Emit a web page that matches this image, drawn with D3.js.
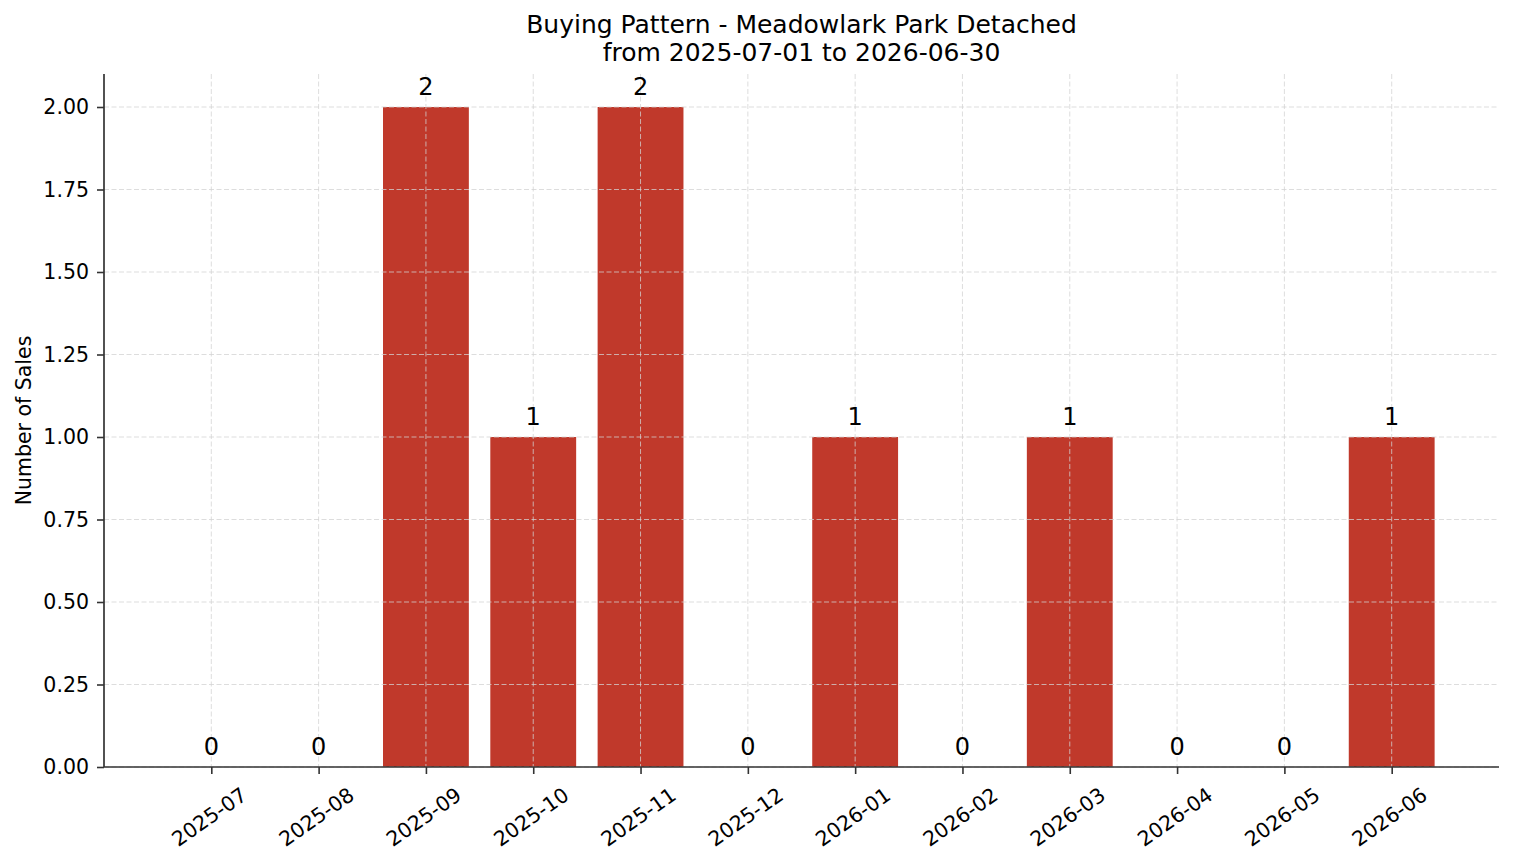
<!DOCTYPE html>
<html>
<head>
<meta charset="utf-8">
<script src="https://cdn.jsdelivr.net/npm/d3@7"></script>
<style>
  html, body { margin: 0; padding: 0; background: #fff; }
  svg { display: block; font-family: "DejaVu Sans", sans-serif; }
</style>
</head>
<body>
<script>
// monthly sales counts
const months = ["2025-07", "2025-08", "2025-09", "2025-10", "2025-11", "2025-12",
                "2026-01", "2026-02", "2026-03", "2026-04", "2026-05", "2026-06"];
const sales = [0, 0, 2, 1, 2, 0, 1, 0, 1, 0, 0, 1];
const yTicks = [0, 0.25, 0.5, 0.75, 1, 1.25, 1.5, 1.75, 2];
const titleLines = ["Buying Pattern - Meadowlark Park Detached", "from 2025-07-01 to 2026-06-30"];

const width = 1514, height = 863;
const margin = {top: 74, right: 15, bottom: 96, left: 104};
const barColor = "#c0392b";

const svg = d3.select("body").append("svg")
    .attr("width", width)
    .attr("height", height)
    .attr("viewBox", [0, 0, width, height]);

const x = d3.scalePoint()
    .domain(months)
    .range([margin.left, width - margin.right])
    .padding(1);
const bw = x.step() * 0.8;

const y = d3.scaleLinear()
    .domain([0, 2.1])
    .range([height - margin.bottom, margin.top]);

// bars
svg.append("g")
  .selectAll("rect")
  .data(months)
  .join("rect")
    .attr("x", d => x(d) - bw / 2)
    .attr("width", bw)
    .attr("y", (d, i) => y(sales[i]))
    .attr("height", (d, i) => y(0) - y(sales[i]))
    .attr("fill", barColor);

// grid (drawn above the bars, like the source)
const grid = svg.append("g")
    .attr("stroke", "#d2d2d2")
    .attr("stroke-opacity", 0.85)
    .attr("stroke-width", 0.9)
    .attr("stroke-dasharray", "5,2.5");
grid.selectAll(".gx")
  .data(months)
  .join("line")
    .attr("x1", d => x(d)).attr("x2", d => x(d))
    .attr("y1", margin.top).attr("y2", height - margin.bottom);
grid.selectAll(".gy")
  .data(yTicks)
  .join("line")
    .attr("x1", margin.left).attr("x2", width - margin.right)
    .attr("y1", d => y(d)).attr("y2", d => y(d));

// value labels
svg.append("g")
    .attr("font-size", 24)
    .attr("text-anchor", "middle")
    .attr("fill", "#000")
  .selectAll("text")
  .data(months)
  .join("text")
    .attr("x", d => x(d))
    .attr("y", (d, i) => y(sales[i]) - 12.5)
    .text((d, i) => sales[i]);

// y axis
const yAxis = svg.append("g")
    .attr("transform", `translate(${margin.left},0)`)
    .call(d3.axisLeft(y).tickValues(yTicks).tickFormat(d3.format(".2f"))
      .tickSize(7).tickPadding(8).tickSizeOuter(0));
yAxis.select(".domain").attr("stroke", "#333").attr("stroke-width", 1.7)
    .attr("d", `M0,${y(0)}V${margin.top}`);
yAxis.selectAll(".tick line").attr("stroke", "#333").attr("stroke-width", 1.6);
yAxis.selectAll(".tick text").attr("font-size", 20.5).attr("fill", "#000")
    .attr("font-family", "DejaVu Sans");

// x axis
const xAxis = svg.append("g")
    .attr("transform", `translate(0,${y(0)})`)
    .call(d3.axisBottom(x).tickSize(7).tickSizeOuter(0).tickFormat(""));
xAxis.select(".domain").attr("stroke", "#333").attr("stroke-width", 1.7)
    .attr("d", `M${margin.left},0H${width - margin.right}`);
xAxis.selectAll(".tick line").attr("stroke", "#333").attr("stroke-width", 1.6);

svg.append("g")
    .attr("font-size", 20.5)
    .attr("fill", "#000")
  .selectAll("text")
  .data(months)
  .join("text")
    .attr("text-anchor", "middle")
    .attr("dominant-baseline", "central")
    .attr("transform", d => `translate(${x(d) - 2},${y(0) + 50}) rotate(-35)`)
    .text(d => d);

// y label
svg.append("text")
    .attr("transform", `translate(31,${(margin.top + y(0)) / 2}) rotate(-90)`)
    .attr("text-anchor", "middle")
    .attr("font-size", 20.5)
    .attr("fill", "#000")
    .text("Number of Sales");

// title
svg.append("g")
    .attr("font-size", 25)
    .attr("text-anchor", "middle")
    .attr("fill", "#000")
  .selectAll("text")
  .data(titleLines)
  .join("text")
    .attr("x", (margin.left + width - margin.right) / 2)
    .attr("y", (d, i) => 33 + i * 28)
    .text(d => d);
</script>
</body>
</html>
